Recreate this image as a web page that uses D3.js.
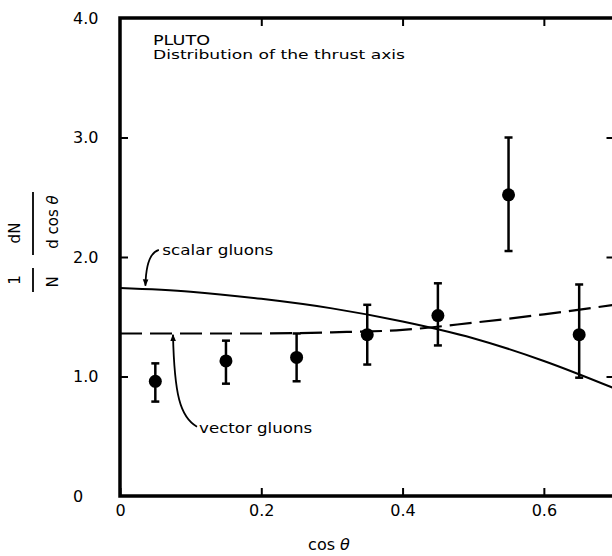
<!DOCTYPE html>
<html>
<head>
<meta charset="utf-8">
<script src="https://cdn.jsdelivr.net/npm/d3@7"></script>
<style>
  body { margin: 0; background: #fff; }
  text { font-family: "DejaVu Sans", sans-serif; fill: #000; }
</style>
</head>
<body>
<svg id="chart" width="612" height="556"></svg>
<script>
// measured bins (PLUTO, thrust axis distribution)
const cosTheta = [0.05, 0.15, 0.25, 0.35, 0.45, 0.55, 0.65]
const values   = [0.96, 1.13, 1.16, 1.35, 1.51, 2.52, 1.35]
const errLow   = [0.79, 0.94, 0.96, 1.10, 1.26, 2.05, 0.99]
const errHigh  = [1.11, 1.30, 1.36, 1.60, 1.78, 3.00, 1.77]

// model curves
const curveX       = [0, 0.1, 0.2, 0.3, 0.4, 0.5, 0.6, 0.7]
const scalarGluons = [1.74, 1.71, 1.65, 1.57, 1.46, 1.32, 1.13, 0.90]
const vectorGluons = [1.36, 1.36, 1.36, 1.37, 1.39, 1.45, 1.52, 1.60]

const xTicks = [0, 0.2, 0.4, 0.6]
const yTicks = [0, 1, 2, 3, 4]

const svg = d3.select('#chart')

const x = d3.scaleLinear().domain([0, 0.7]).range([120, 614.5])
const y = d3.scaleLinear().domain([0, 4]).range([496, 18])

// frame
svg.append('rect')
  .attr('x', x(0)).attr('y', y(4))
  .attr('width', x(0.7) - x(0)).attr('height', y(0) - y(4))
  .attr('fill', 'none').attr('stroke', '#000').attr('stroke-width', 3.5)

function styleAxis(g) {
  g.select('.domain').remove()
  g.selectAll('line').attr('stroke', '#000').attr('stroke-width', 2)
  g.selectAll('text').style('font-size', '16px').attr('fill', '#000')
}

svg.append('g')
  .attr('transform', `translate(0,${y(0)})`)
  .call(d3.axisBottom(x).tickValues(xTicks).tickSize(-8).tickPadding(9)
        .tickFormat(d => d === 0 ? '0' : d.toFixed(1)))
  .call(styleAxis)

svg.append('g')
  .attr('transform', `translate(0,${y(4)})`)
  .call(d3.axisTop(x).tickValues(xTicks.slice(1)).tickSize(-8).tickFormat(''))
  .call(styleAxis)

const yAxis = svg.append('g')
  .attr('transform', `translate(${x(0)},0)`)
  .call(d3.axisLeft(y).tickValues(yTicks).tickSize(-8)
        .tickFormat(d => d === 0 ? '0' : d.toFixed(1)))
  .call(styleAxis)
yAxis.selectAll('text').attr('text-anchor', 'start').attr('x', 73 - x(0))
yAxis.selectAll('.tick').filter(d => d === 0 || d === 4).select('line').remove()

svg.append('g')
  .attr('transform', `translate(${x(0.7)},0)`)
  .call(d3.axisRight(y).tickValues([1, 2, 3]).tickSize(-8).tickFormat(''))
  .call(styleAxis)

// theory curves
const line = d3.line()
  .x((d, i) => x(curveX[i]))
  .y(d => y(d))
  .curve(d3.curveMonotoneX)

svg.append('path')
  .attr('d', line(scalarGluons))
  .attr('fill', 'none').attr('stroke', '#000').attr('stroke-width', 2)

svg.append('path')
  .attr('d', line(vectorGluons))
  .attr('fill', 'none').attr('stroke', '#000').attr('stroke-width', 2.2)
  .attr('stroke-dasharray', '22,8')

// data points with error bars
const pts = svg.append('g').selectAll('g')
  .data(cosTheta.map((c, i) => ({ c, v: values[i], lo: errLow[i], hi: errHigh[i] })))
  .join('g')

pts.append('line')
  .attr('x1', d => x(d.c)).attr('x2', d => x(d.c))
  .attr('y1', d => y(d.lo)).attr('y2', d => y(d.hi))
  .attr('stroke', '#000').attr('stroke-width', 2.5)

pts.selectAll('.cap')
  .data(d => [[d.c, d.lo], [d.c, d.hi]])
  .join('line')
  .attr('class', 'cap')
  .attr('x1', d => x(d[0]) - 4).attr('x2', d => x(d[0]) + 4)
  .attr('y1', d => y(d[1])).attr('y2', d => y(d[1]))
  .attr('stroke', '#000').attr('stroke-width', 2.5)

pts.append('circle')
  .attr('cx', d => x(d.c)).attr('cy', d => y(d.v))
  .attr('r', 6.5).attr('fill', '#000')

// arrow annotations
svg.append('defs').append('marker')
  .attr('id', 'head')
  .attr('viewBox', '0 0 10 10')
  .attr('refX', 9).attr('refY', 5)
  .attr('markerWidth', 7).attr('markerHeight', 7)
  .attr('markerUnits', 'userSpaceOnUse')
  .attr('orient', 'auto')
  .append('path').attr('d', 'M0,1 L10,5 L0,9 Z').attr('fill', '#000')

svg.append('path')
  .attr('d', `M${x(0.055)},${y(2.06)} Q${x(0.037)},${y(2.03)} ${x(0.036)},${y(1.76)}`)
  .attr('fill', 'none').attr('stroke', '#000').attr('stroke-width', 1.8)
  .attr('marker-end', 'url(#head)')

svg.append('path')
  .attr('d', `M${x(0.109)},${y(0.58)} C${x(0.085)},${y(0.66)} ${x(0.077)},${y(0.85)} ${x(0.075)},${y(1.35)}`)
  .attr('fill', 'none').attr('stroke', '#000').attr('stroke-width', 1.8)
  .attr('marker-end', 'url(#head)')

svg.append('text')
  .attr('x', x(0.06)).attr('y', y(2.02))
  .attr('textLength', 111).attr('lengthAdjust', 'spacingAndGlyphs')
  .style('font-size', '14px')
  .text('scalar gluons')

svg.append('text')
  .attr('x', x(0.112)).attr('y', y(0.53))
  .attr('textLength', 113).attr('lengthAdjust', 'spacingAndGlyphs')
  .style('font-size', '14px')
  .text('vector gluons')

// title block
svg.append('text')
  .attr('x', 153).attr('y', 45)
  .attr('textLength', 57).attr('lengthAdjust', 'spacingAndGlyphs')
  .style('font-size', '14px')
  .text('PLUTO')

svg.append('text')
  .attr('x', 153).attr('y', 59)
  .attr('textLength', 252).attr('lengthAdjust', 'spacingAndGlyphs')
  .style('font-size', '13px')
  .text('Distribution of the thrust axis')

// x title
const xt = svg.append('text')
  .attr('x', 329).attr('y', 550)
  .attr('text-anchor', 'middle')
  .style('font-size', '16px')
xt.append('tspan').text('cos ')
xt.append('tspan').style('font-style', 'italic').text('θ')

// y title: 1/N dN/d cos θ, rotated
const yt = svg.append('g')
function rotText(tx, ty, str, italicTail) {
  const t = yt.append('text')
    .attr('transform', `translate(${tx},${ty}) rotate(-90)`)
    .attr('text-anchor', 'middle')
    .attr('dominant-baseline', 'central')
    .style('font-size', '15px')
  t.append('tspan').text(str)
  if (italicTail) t.append('tspan').style('font-style', 'italic').text(italicTail)
}
rotText(15, 280, '1')
rotText(53, 282, 'N')
rotText(15, 233, 'dN')
rotText(53, 222, 'd cos ', 'θ')

yt.append('line').attr('x1', 33).attr('x2', 33).attr('y1', 268).attr('y2', 292)
  .attr('stroke', '#000').attr('stroke-width', 1.8)
yt.append('line').attr('x1', 33).attr('x2', 33).attr('y1', 192).attr('y2', 255)
  .attr('stroke', '#000').attr('stroke-width', 1.8)
</script>
</body>
</html>
